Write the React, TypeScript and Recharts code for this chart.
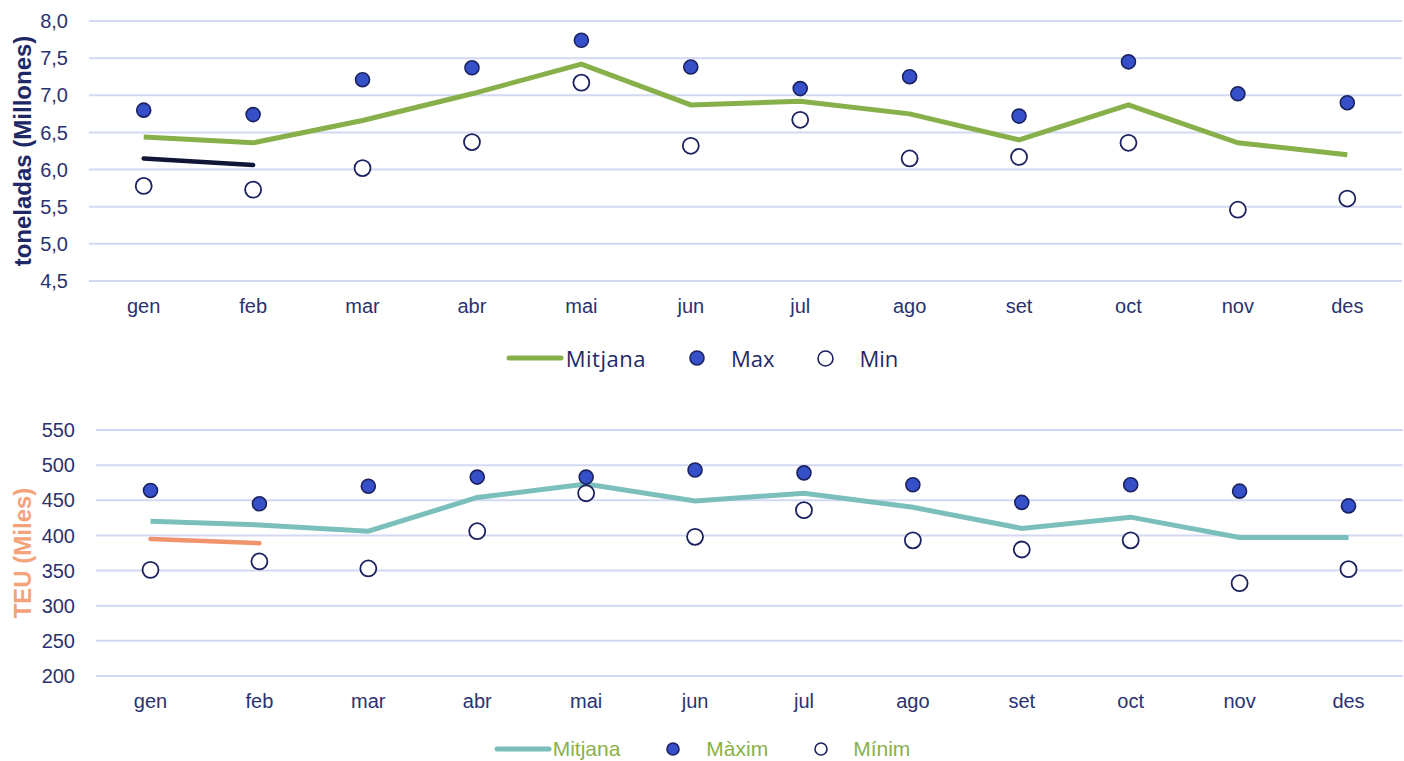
import { ComposedChart, Line, XAxis, YAxis, CartesianGrid } from "recharts";

const months = ["gen", "feb", "mar", "abr", "mai", "jun", "jul", "ago", "set", "oct", "nov", "des"];

// toneladas (millones)
const tonMitjana = [6.44, 6.36, 6.66, 7.02, 7.42, 6.87, 6.92, 6.75, 6.4, 6.87, 6.36, 6.2];
const tonMax = [6.8, 6.74, 7.21, 7.37, 7.74, 7.38, 7.09, 7.25, 6.72, 7.45, 7.02, 6.9];
const tonMin = [5.78, 5.73, 6.02, 6.37, 7.17, 6.32, 6.67, 6.15, 6.17, 6.36, 5.46, 5.61];
const tonActual = [6.15, 6.06, null, null, null, null, null, null, null, null, null, null];
const tonTicks = [4.5, 5, 5.5, 6, 6.5, 7, 7.5, 8];

// TEU (miles)
const teuMitjana = [420, 415, 406, 454, 473, 449, 460, 440, 410, 426, 397, 397];
const teuMax = [464, 445, 470, 483, 483, 493, 489, 472, 447, 472, 463, 442];
const teuMin = [351, 363, 353, 406, 460, 398, 436, 393, 380, 393, 332, 352];
const teuActual = [395, 389, null, null, null, null, null, null, null, null, null, null];
const teuTicks = [200, 250, 300, 350, 400, 450, 500, 550];

const tonData = months.map((m, i) => ({
  month: m,
  mitjana: tonMitjana[i],
  max: tonMax[i],
  min: tonMin[i],
  actual: tonActual[i],
}));

const teuData = months.map((m, i) => ({
  month: m,
  mitjana: teuMitjana[i],
  max: teuMax[i],
  min: teuMin[i],
  actual: teuActual[i],
}));

const NAVY = "#2A3270";
const DOT_BLUE = "#3550C8";
const DOT_EDGE = "#1B2260";
const GRID = "#D3D9F2";
const FONT = "'Liberation Sans', Arial, sans-serif";

const rotatedLabel = (text: string, color: string, x: number) => (props: any) => {
  const vb = props.viewBox;
  const cy = vb.y + vb.height / 2;
  return (
    <text
      x={x}
      y={cy}
      transform={`rotate(-90 ${x} ${cy})`}
      textAnchor="middle"
      dominantBaseline="central"
      fill={color}
      fontFamily={FONT}
      fontWeight="bold"
      fontSize={24}
    >
      {text}
    </text>
  );
};

function LegendLine({ color }: { color: string }) {
  return (
    <svg width={58} height={10} style={{ display: "block" }}>
      <line x1={3} y1={5} x2={55} y2={5} stroke={color} strokeWidth={5} strokeLinecap="round" />
    </svg>
  );
}

function LegendDot({ r, fill }: { r: number; fill: string }) {
  const s = r * 2 + 4;
  return (
    <svg width={s} height={s} style={{ display: "block" }}>
      <circle cx={s / 2} cy={s / 2} r={r} fill={fill} stroke={DOT_EDGE} strokeWidth={1.6} />
    </svg>
  );
}

export default function App() {
  const tickStyle = { fill: NAVY, fontFamily: FONT, fontSize: 20 };
  const yTickStyle = { fill: NAVY, fontFamily: FONT, fontSize: 20 };

  return (
    <div style={{ position: "absolute", left: 0, top: 0, width: 1404, height: 761, background: "#fff" }}>
      {/* chart 1: toneladas */}
      <div style={{ position: "absolute", left: 0, top: 0 }}>
        <ComposedChart width={1404} height={330} data={tonData} margin={{ top: 21, right: 2, left: 0, bottom: 9 }}>
          <CartesianGrid vertical={false} stroke={GRID} strokeWidth={2} />
          <XAxis
            dataKey="month"
            axisLine={false}
            tickLine={false}
            tickSize={0}
            tickMargin={18}
            height={40}
            padding={{ left: 54.7, right: 54.7 }}
            tick={tickStyle}
          />
          <YAxis
            domain={[4.5, 8]}
            ticks={tonTicks}
            width={89}
            axisLine={false}
            tickLine={false}
            tickSize={0}
            tickMargin={21}
            tick={yTickStyle}
            tickFormatter={(v: number) => v.toFixed(1).replace(".", ",")}
            label={{ content: rotatedLabel("toneladas (Millones)", "#1F2866", 22) }}
          />
          <Line dataKey="mitjana" stroke="#87B04B" strokeWidth={5} dot={false} activeDot={false} isAnimationActive={false} />
          <Line dataKey="actual" stroke="#0F1638" strokeWidth={4.5} strokeLinecap="round" dot={false} activeDot={false} isAnimationActive={false} />
          <Line
            dataKey="max"
            stroke="none"
            dot={{ r: 7, fill: DOT_BLUE, stroke: DOT_EDGE, strokeWidth: 1.6 }}
            activeDot={false}
            isAnimationActive={false}
          />
          <Line
            dataKey="min"
            stroke="none"
            dot={{ r: 8, fill: "#fff", stroke: DOT_EDGE, strokeWidth: 1.8 }}
            activeDot={false}
            isAnimationActive={false}
          />
        </ComposedChart>
      </div>
      <div
        style={{
          position: "absolute",
          left: 0,
          top: 345,
          width: 1404,
          height: 26,
          display: "flex",
          alignItems: "center",
          justifyContent: "center",
          fontFamily: "'Open Sans', sans-serif",
          fontSize: 22,
          color: "#1F2866",
          boxSizing: "border-box",
        }}
      >
        <LegendLine color="#87B04B" />
        <span style={{ marginLeft: 2, letterSpacing: 0.5 }}>Mitjana</span>
        <span style={{ marginLeft: 42 }}>
          <LegendDot r={7} fill={DOT_BLUE} />
        </span>
        <span style={{ marginLeft: 25 }}>Max</span>
        <span style={{ marginLeft: 42 }}>
          <LegendDot r={7.5} fill="#fff" />
        </span>
        <span style={{ marginLeft: 24 }}>Min</span>
      </div>

      {/* chart 2: TEU */}
      <div style={{ position: "absolute", left: 0, top: 400 }}>
        <ComposedChart width={1404} height={320} data={teuData} margin={{ top: 30, right: 1, left: 0, bottom: 4 }}>
          <CartesianGrid vertical={false} stroke={GRID} strokeWidth={2} />
          <XAxis
            dataKey="month"
            axisLine={false}
            tickLine={false}
            tickSize={0}
            tickMargin={18}
            height={40}
            padding={{ left: 54.5, right: 54.5 }}
            tick={tickStyle}
          />
          <YAxis
            domain={[200, 550]}
            ticks={teuTicks}
            width={96}
            axisLine={false}
            tickLine={false}
            tickSize={0}
            tickMargin={21}
            tick={yTickStyle}
            label={{ content: rotatedLabel("TEU (Miles)", "#F4A27A", 22) }}
          />
          <Line dataKey="mitjana" stroke="#7BBFBC" strokeWidth={5} dot={false} activeDot={false} isAnimationActive={false} />
          <Line dataKey="actual" stroke="#F0936A" strokeWidth={4.5} strokeLinecap="round" dot={false} activeDot={false} isAnimationActive={false} />
          <Line
            dataKey="max"
            stroke="none"
            dot={{ r: 7, fill: DOT_BLUE, stroke: DOT_EDGE, strokeWidth: 1.6 }}
            activeDot={false}
            isAnimationActive={false}
          />
          <Line
            dataKey="min"
            stroke="none"
            dot={{ r: 8, fill: "#fff", stroke: DOT_EDGE, strokeWidth: 1.8 }}
            activeDot={false}
            isAnimationActive={false}
          />
        </ComposedChart>
      </div>
      <div
        style={{
          position: "absolute",
          left: 0,
          top: 736,
          width: 1404,
          height: 26,
          display: "flex",
          alignItems: "center",
          justifyContent: "center",
          fontFamily: FONT,
          fontSize: 21,
          color: "#8AB04A",
        }}
      >
        <LegendLine color="#7BBFBC" />
        <span style={{ marginLeft: 1 }}>Mitjana</span>
        <span style={{ marginLeft: 45 }}>
          <LegendDot r={6} fill={DOT_BLUE} />
        </span>
        <span style={{ marginLeft: 25 }}>Màxim</span>
        <span style={{ marginLeft: 45 }}>
          <LegendDot r={6} fill="#fff" />
        </span>
        <span style={{ marginLeft: 24 }}>Mínim</span>
      </div>
    </div>
  );
}
